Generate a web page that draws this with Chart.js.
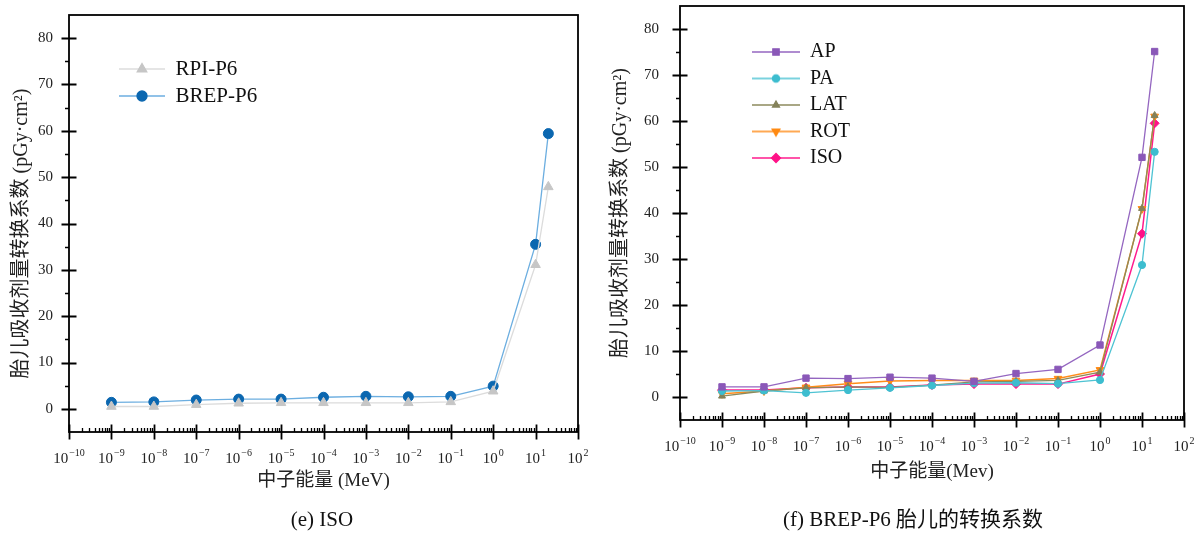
<!DOCTYPE html>
<html lang="zh">
<head>
    <meta charset="UTF-8">
    <title>胎儿吸收剂量转换系数</title>
    <script src="https://cdn.jsdelivr.net/npm/chart.js@4"></script>
    <style>
        * {
            margin: 0;
            padding: 0;
            box-sizing: border-box;
        }

        body {
            width: 1204px;
            height: 533px;
            background: #fff;
            position: relative;
            overflow: hidden;
            font-family: "Liberation Serif", "Noto Sans CJK SC", serif;
            color: #111;
        }

        .panel {
            position: absolute;
            top: 0;
            height: 533px;
        }

        #left { left: 0; width: 600px; }
        #right { left: 600px; width: 604px; }

        .caption {
            position: absolute;
            top: 506px;
            font-size: 21px;
            line-height: 26px;
            white-space: nowrap;
            transform: translateX(-50%);
        }
    </style>
</head>
<body>

    <div class="panel" id="left"><canvas id="isoChart" width="600" height="533"></canvas></div>
    <div class="panel" id="right"><canvas id="brepChart" width="604" height="533"></canvas></div>

    <div class="caption" style="left: 322px;">(e) ISO</div>
    <div class="caption" style="left: 913px;">(f) BREP-P6 胎儿的转换系数</div>

    <script>
        // neutron energies (MeV)
        const energies = [1e-9, 1e-8, 1e-7, 1e-6, 1e-5, 1e-4, 1e-3, 1e-2, 1e-1, 1, 10, 20];

        // decade ticks, labelled 10^n
        const xTickValues = [1e-10, 1e-9, 1e-8, 1e-7, 1e-6, 1e-5, 1e-4, 1e-3, 1e-2, 1e-1, 1, 10, 100];
        const xTickExponents = ['−10', '−9', '−8', '−7', '−6', '−5', '−4', '−3', '−2', '−1', '0', '1', '2'];
        const yTickValues = [0, 10, 20, 30, 40, 50, 60, 70, 80];

        // (e) ISO
        const rpiP6 = [0.5, 0.5, 0.9, 1.2, 1.3, 1.3, 1.3, 1.3, 1.5, 3.8, 31.1, 47.9];
        const brepP6 = [1.4, 1.5, 1.9, 2.1, 2.1, 2.5, 2.7, 2.6, 2.7, 4.9, 35.5, 59.4];

        // (f) BREP-P6 irradiation geometries
        const ap = [2.2, 2.2, 4.1, 4.0, 4.3, 4.1, 3.4, 5.1, 6.0, 11.3, 52.1, 75.1];
        const pa = [1.3, 1.4, 0.9, 1.5, 2.0, 2.5, 3.0, 3.1, 2.9, 3.7, 28.7, 53.3];
        const lat = [0.2, 1.3, 2.0, 2.2, 2.1, 2.6, 3.3, 3.4, 3.6, 5.4, 41.0, 61.2];
        const rot = [0.7, 1.3, 2.1, 2.9, 3.5, 3.6, 3.6, 3.6, 4.0, 5.9, 40.9, 61.0];
        const iso = [1.5, 1.5, 2.0, 2.2, 2.2, 2.6, 2.8, 2.8, 2.8, 5.0, 35.5, 59.5];

        const serif = '"Liberation Serif", "Noto Sans CJK SC", serif';
        const yTitle = '胎儿吸收剂量转换系数 (pGy·cm²)';

        const toPoints = arr => arr.map((v, i) => ({ x: energies[i], y: v }));

        // small line + marker picture for the legend
        function legendIcon(lineColor, markColor, style, radius, rotation, w) {
            const c = document.createElement('canvas');
            c.width = w;
            c.height = 16;
            const g = c.getContext('2d');
            g.strokeStyle = lineColor;
            g.lineWidth = 1.3;
            g.beginPath();
            g.moveTo(0, 8);
            g.lineTo(w, 8);
            g.stroke();
            g.fillStyle = markColor;
            g.strokeStyle = markColor;
            Chart.helpers.drawPoint(g, { pointStyle: style, radius: radius, rotation: rotation, borderWidth: 1 }, w / 2, 8);
            return c;
        }

        // box frame, Origin-like tick marks and 10^n labels
        const frame = {
            id: 'frame',
            afterDraw(chart) {
                const { ctx, chartArea: a, scales: { x, y } } = chart;
                ctx.save();
                ctx.strokeStyle = '#000';
                ctx.lineWidth = 1.8;
                ctx.strokeRect(a.left, a.top, a.right - a.left, a.bottom - a.top);

                ctx.beginPath();
                xTickValues.forEach(v => {
                    const px = Math.round(x.getPixelForValue(v)) + 0.5;
                    ctx.moveTo(px, a.bottom - 7.5);
                    ctx.lineTo(px, a.bottom + 7.5);
                });
                yTickValues.forEach(v => {
                    const py = Math.round(y.getPixelForValue(v)) + 0.5;
                    ctx.moveTo(a.left - 7.5, py);
                    ctx.lineTo(a.left + 7.5, py);
                });
                ctx.stroke();

                ctx.lineWidth = 1.3;
                ctx.beginPath();
                for (let i = 0; i < xTickValues.length - 1; i++) {
                    for (let k = 2; k <= 9; k++) {
                        const px = Math.round(x.getPixelForValue(xTickValues[i] * k)) + 0.5;
                        ctx.moveTo(px, a.bottom);
                        ctx.lineTo(px, a.bottom - 4);
                    }
                }
                for (let v = 5; v < 85; v += 10) {
                    const py = Math.round(y.getPixelForValue(v)) + 0.5;
                    ctx.moveTo(a.left, py);
                    ctx.lineTo(a.left - 4, py);
                }
                ctx.stroke();

                // x labels: "10" with a raised exponent
                const baseY = a.bottom + 30.5;
                ctx.fillStyle = '#222';
                ctx.textBaseline = 'alphabetic';
                ctx.textAlign = 'left';
                xTickValues.forEach((v, i) => {
                    const px = x.getPixelForValue(v);
                    ctx.font = '15px ' + serif;
                    const wb = ctx.measureText('10').width;
                    ctx.font = '10px ' + serif;
                    const we = ctx.measureText(xTickExponents[i]).width;
                    const x0 = px - (wb + we + 1) / 2;
                    ctx.font = '15px ' + serif;
                    ctx.fillText('10', x0, baseY);
                    ctx.font = '10px ' + serif;
                    ctx.fillText(xTickExponents[i], x0 + wb + 1, baseY - 6.5);
                });
                ctx.restore();
            }
        };

        // put the legend where it sits in the figure
        const legendPos = {
            id: 'legendPos',
            afterLayout(chart, args, opts) {
                if (chart.legend) {
                    chart.legend.left = opts.left;
                    chart.legend.top = opts.top;
                }
            }
        };

        function makeOptions(cfg) {
            return {
                responsive: false,
                animation: false,
                layout: { padding: cfg.padding },
                scales: {
                    x: {
                        type: 'logarithmic',
                        min: 1e-10,
                        max: 100,
                        afterBuildTicks: s => { s.ticks = xTickValues.map(v => ({ value: v })); },
                        afterFit: s => {
                            s.height = 70;
                            s.paddingLeft = 0;
                            s.paddingRight = 0;
                        },
                        grid: { display: false, drawTicks: false },
                        border: { display: false },
                        ticks: { display: false },
                        title: {
                            display: true,
                            text: cfg.xTitle,
                            color: '#222',
                            font: { family: serif, size: 19 },
                            padding: { top: 0, bottom: cfg.xTitlePad }
                        }
                    },
                    y: {
                        min: -5,
                        max: 85,
                        afterBuildTicks: s => { s.ticks = yTickValues.map(v => ({ value: v })); },
                        afterFit: s => {
                            s.width = cfg.yWidth;
                            s.paddingTop = 0;
                            s.paddingBottom = 0;
                        },
                        grid: { display: false, drawTicks: false },
                        border: { display: false },
                        ticks: {
                            padding: cfg.yTickPad,
                            color: '#222',
                            font: { family: serif, size: 15 }
                        },
                        title: {
                            display: true,
                            text: yTitle + cfg.yTitleTail,
                            color: '#222',
                            font: { family: serif, size: 20 },
                            padding: { top: cfg.yTitlePad, bottom: 0 }
                        }
                    }
                },
                plugins: {
                    tooltip: { enabled: false },
                    legendPos: cfg.legendPos,
                    legend: {
                        position: 'chartArea',
                        align: 'start',
                        labels: {
                            usePointStyle: true,
                            pointStyleWidth: cfg.iconWidth,
                            padding: cfg.legendGap,
                            color: '#111',
                            font: { family: serif, size: cfg.legendFont },
                            generateLabels: chart => chart.data.datasets.map((ds, i) => ({
                                text: ds.label,
                                pointStyle: ds.icon,
                                fillStyle: ds.pointBackgroundColor,
                                strokeStyle: ds.pointBackgroundColor,
                                lineWidth: 0,
                                fontColor: '#111',
                                hidden: false,
                                datasetIndex: i
                            }))
                        }
                    }
                }
            };
        }

        function series(label, data, lineColor, markColor, style, radius, rotation, width, iconW) {
            return {
                label: label,
                data: toPoints(data),
                borderColor: lineColor,
                borderWidth: width,
                pointStyle: style,
                pointRadius: radius,
                pointRotation: rotation,
                pointBackgroundColor: markColor,
                pointBorderColor: markColor,
                pointBorderWidth: 1,
                tension: 0,
                icon: legendIcon(lineColor, markColor, style, radius, rotation, iconW)
            };
        }

        new Chart(document.getElementById('isoChart'), {
            type: 'line',
            data: {
                datasets: [
                    series('RPI-P6', rpiP6, '#dcdcdc', '#c6c6c6', 'triangle', 5.5, 0, 1.3, 46),
                    series('BREP-P6', brepP6, '#6caee0', '#0b67b0', 'circle', 5, 0, 1.3, 46)
                ]
            },
            options: makeOptions({
                padding: { left: 0, top: 15, right: 22, bottom: 31 },
                xTitle: '中子能量 (MeV)',
                xTitlePad: 9.6,
                yWidth: 69,
                yTickPad: 16,
                yTitlePad: 10,
                yTitleTail: '\u2002\u2002',
                iconWidth: 46,
                legendGap: 6,
                legendFont: 21,
                legendPos: { left: 113, top: 52.5 }
            }),
            plugins: [frame, legendPos]
        });

        new Chart(document.getElementById('brepChart'), {
            type: 'line',
            data: {
                datasets: [
                    series('AP', ap, '#9466c0', '#8a58b8', 'rect', 4.5, 0, 1.3, 48),
                    series('PA', pa, '#4ec3d3', '#3dbdcf', 'circle', 3.6, 0, 1.3, 48),
                    series('LAT', lat, '#8c8a5c', '#84825a', 'triangle', 4, 0, 1.3, 48),
                    series('ROT', rot, '#ff8c1a', '#ff8a12', 'triangle', 4.5, 180, 1.5, 48),
                    series('ISO', iso, '#ff1b8d', '#ff1287', 'rectRot', 4.5, 0, 1.5, 48)
                ]
            },
            options: makeOptions({
                padding: { left: 0, top: 6, right: 20, bottom: 43 },
                xTitle: '中子能量(Mev)',
                xTitlePad: 6.6,
                yWidth: 80,
                yTickPad: 21,
                yTitlePad: 9,
                yTitleTail: '',
                iconWidth: 48,
                legendGap: 6.5,
                legendFont: 20,
                legendPos: { left: 145.5, top: 35.5 }
            }),
            plugins: [frame, legendPos]
        });
    </script>

</body>
</html>
